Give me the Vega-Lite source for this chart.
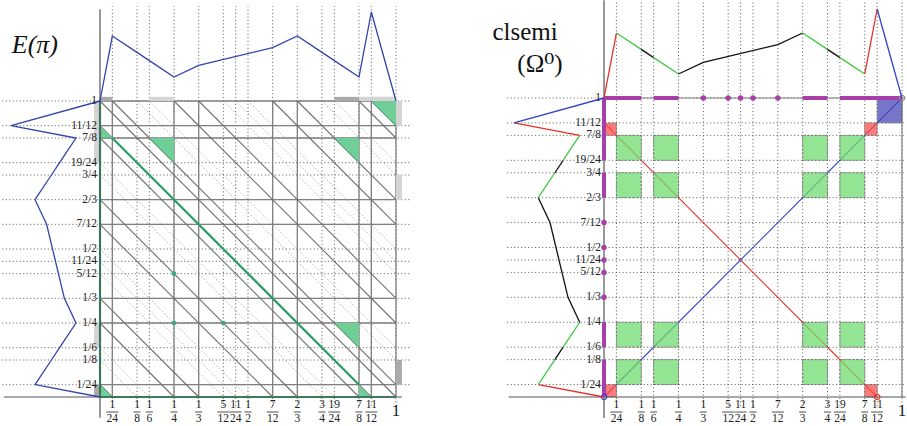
{
"$schema": "https://vega.github.io/schema/vega-lite/v6.json",
"width": 907, "height": 426, "autosize": {"type": "none"}, "padding": 0,
"config": {"view": {"stroke": null}, "axis": {"disable": true}, "legend": {"disable": true}, "text": {"font": "'Liberation Serif', 'DejaVu Serif', serif"}},
"resolve": {"scale": {"x": "independent", "y": "independent", "color": "independent"}},
"datasets": {
"ticks": [
{"v":0.0416667,"lab":"1/24","num":"1","den":"24"},
{"v":0.125,"lab":"1/8","num":"1","den":"8"},
{"v":0.1666667,"lab":"1/6","num":"1","den":"6"},
{"v":0.25,"lab":"1/4","num":"1","den":"4"},
{"v":0.3333333,"lab":"1/3","num":"1","den":"3"},
{"v":0.4166667,"lab":"5/12","num":"5","den":"12"},
{"v":0.4583333,"lab":"11/24","num":"11","den":"24"},
{"v":0.5,"lab":"1/2","num":"1","den":"2"},
{"v":0.5833333,"lab":"7/12","num":"7","den":"12"},
{"v":0.6666667,"lab":"2/3","num":"2","den":"3"},
{"v":0.75,"lab":"3/4","num":"3","den":"4"},
{"v":0.7916667,"lab":"19/24","num":"19","den":"24"},
{"v":0.875,"lab":"7/8","num":"7","den":"8"},
{"v":0.9166667,"lab":"11/12","num":"11","den":"12"},
{"v":1,"lab":"1","num":"1","den":""}
],
"bp": [{"v":0},{"v":0.0416667},{"v":0.25},{"v":0.3333333},{"v":0.5833333},{"v":0.6666667},{"v":0.875},{"v":0.9166667},{"v":1}],
"diag": [
{"x":0,"y":0.0416667,"x2":0.0416667,"y2":0,"k":"s"},
{"x":0,"y":0.25,"x2":0.25,"y2":0,"k":"s"},
{"x":0,"y":0.3333333,"x2":0.3333333,"y2":0,"k":"s"},
{"x":0,"y":0.5833333,"x2":0.5833333,"y2":0,"k":"s"},
{"x":0,"y":0.6666667,"x2":0.6666667,"y2":0,"k":"s"},
{"x":0,"y":0.875,"x2":0.875,"y2":0,"k":"s"},
{"x":0,"y":0.9166667,"x2":0.9166667,"y2":0,"k":"s"},
{"x":0,"y":1,"x2":1,"y2":0,"k":"s"},
{"x":0.0416667,"y":1,"x2":1,"y2":0.0416667,"k":"s"},
{"x":0.25,"y":1,"x2":1,"y2":0.25,"k":"s"},
{"x":0.3333333,"y":1,"x2":1,"y2":0.3333333,"k":"s"},
{"x":0.5833333,"y":1,"x2":1,"y2":0.5833333,"k":"s"},
{"x":0.6666667,"y":1,"x2":1,"y2":0.6666667,"k":"s"},
{"x":0.875,"y":1,"x2":1,"y2":0.875,"k":"s"},
{"x":0.9166667,"y":1,"x2":1,"y2":0.9166667,"k":"s"},
{"x":0,"y":0.125,"x2":0.125,"y2":0,"k":"d"},
{"x":0,"y":0.1666667,"x2":0.1666667,"y2":0,"k":"d"},
{"x":0,"y":0.4166667,"x2":0.4166667,"y2":0,"k":"d"},
{"x":0,"y":0.4583333,"x2":0.4583333,"y2":0,"k":"d"},
{"x":0,"y":0.5,"x2":0.5,"y2":0,"k":"d"},
{"x":0,"y":0.75,"x2":0.75,"y2":0,"k":"d"},
{"x":0,"y":0.7916667,"x2":0.7916667,"y2":0,"k":"d"},
{"x":0.125,"y":1,"x2":1,"y2":0.125,"k":"d"},
{"x":0.1666667,"y":1,"x2":1,"y2":0.1666667,"k":"d"},
{"x":0.4166667,"y":1,"x2":1,"y2":0.4166667,"k":"d"},
{"x":0.4583333,"y":1,"x2":1,"y2":0.4583333,"k":"d"},
{"x":0.5,"y":1,"x2":1,"y2":0.5,"k":"d"},
{"x":0.75,"y":1,"x2":1,"y2":0.75,"k":"d"},
{"x":0.7916667,"y":1,"x2":1,"y2":0.7916667,"k":"d"}
],
"pi": [
{"seg":1,"x":0,"p":0,"t":"r"},{"seg":1,"x":0.0416667,"p":0.73,"t":"r"},
{"seg":2,"x":0.0416667,"p":0.73,"t":"g"},{"seg":2,"x":0.125,"p":0.546,"t":"g"},
{"seg":3,"x":0.125,"p":0.546,"t":"k"},{"seg":3,"x":0.1666667,"p":0.454,"t":"k"},
{"seg":4,"x":0.1666667,"p":0.454,"t":"g"},{"seg":4,"x":0.25,"p":0.27,"t":"g"},
{"seg":5,"x":0.25,"p":0.27,"t":"k"},{"seg":5,"x":0.3333333,"p":0.4,"t":"k"},{"seg":5,"x":0.5833333,"p":0.6,"t":"k"},{"seg":5,"x":0.6666667,"p":0.73,"t":"k"},
{"seg":6,"x":0.6666667,"p":0.73,"t":"g"},{"seg":6,"x":0.75,"p":0.546,"t":"g"},
{"seg":7,"x":0.75,"p":0.546,"t":"k"},{"seg":7,"x":0.7916667,"p":0.454,"t":"k"},
{"seg":8,"x":0.7916667,"p":0.454,"t":"g"},{"seg":8,"x":0.875,"p":0.27,"t":"g"},
{"seg":9,"x":0.875,"p":0.27,"t":"r"},{"seg":9,"x":0.9166667,"p":1,"t":"r"},
{"seg":10,"x":0.9166667,"p":1,"t":"b"},{"seg":10,"x":1,"p":0,"t":"b"}
],
"tri": [
{"id":1,"x":0.9166667,"y":1,"y2":1},{"id":1,"x":1,"y":0.9166667,"y2":1},
{"id":2,"x":0.1666667,"y":0.875,"y2":0.875},{"id":2,"x":0.25,"y":0.7916667,"y2":0.875},
{"id":3,"x":0.7916667,"y":0.875,"y2":0.875},{"id":3,"x":0.875,"y":0.7916667,"y2":0.875},
{"id":4,"x":0,"y":0.875,"y2":0.9166667},{"id":4,"x":0.0416667,"y":0.875,"y2":0.875},
{"id":5,"x":0,"y":0,"y2":0.0416667},{"id":5,"x":0.0416667,"y":0,"y2":0},
{"id":6,"x":0.875,"y":0,"y2":0.0416667},{"id":6,"x":0.9166667,"y":0,"y2":0},
{"id":7,"x":0.7916667,"y":0.25,"y2":0.25},{"id":7,"x":0.875,"y":0.1666667,"y2":0.25}
],
"gbar": [
{"s":"top","a":0,"b":0.0416667,"t":"dark"},
{"s":"top","a":0.1666667,"b":0.25,"t":"light"},
{"s":"top","a":0.7916667,"b":0.875,"t":"dark"},
{"s":"top","a":0.875,"b":1,"t":"light"},
{"s":"left","a":0.7916667,"b":1,"t":"light"},
{"s":"left","a":0.1666667,"b":0.25,"t":"light"},
{"s":"left","a":0,"b":0.0416667,"t":"dark"},
{"s":"right","a":0.9166667,"b":1,"t":"light"},
{"s":"right","a":0.6666667,"b":0.75,"t":"light"},
{"s":"right","a":0.0416667,"b":0.125,"t":"dark"}
],
"sq": [
{"x":0.0416667,"x2":0.125,"y":0.7916667,"y2":0.875,"t":"g"},
{"x":0.1666667,"x2":0.25,"y":0.7916667,"y2":0.875,"t":"g"},
{"x":0.6666667,"x2":0.75,"y":0.7916667,"y2":0.875,"t":"g"},
{"x":0.7916667,"x2":0.875,"y":0.7916667,"y2":0.875,"t":"g"},
{"x":0.0416667,"x2":0.125,"y":0.6666667,"y2":0.75,"t":"g"},
{"x":0.1666667,"x2":0.25,"y":0.6666667,"y2":0.75,"t":"g"},
{"x":0.6666667,"x2":0.75,"y":0.6666667,"y2":0.75,"t":"g"},
{"x":0.7916667,"x2":0.875,"y":0.6666667,"y2":0.75,"t":"g"},
{"x":0.0416667,"x2":0.125,"y":0.1666667,"y2":0.25,"t":"g"},
{"x":0.1666667,"x2":0.25,"y":0.1666667,"y2":0.25,"t":"g"},
{"x":0.6666667,"x2":0.75,"y":0.1666667,"y2":0.25,"t":"g"},
{"x":0.7916667,"x2":0.875,"y":0.1666667,"y2":0.25,"t":"g"},
{"x":0.0416667,"x2":0.125,"y":0.0416667,"y2":0.125,"t":"g"},
{"x":0.1666667,"x2":0.25,"y":0.0416667,"y2":0.125,"t":"g"},
{"x":0.6666667,"x2":0.75,"y":0.0416667,"y2":0.125,"t":"g"},
{"x":0.7916667,"x2":0.875,"y":0.0416667,"y2":0.125,"t":"g"},
{"x":0,"x2":0.0416667,"y":0.875,"y2":0.9166667,"t":"r"},
{"x":0.875,"x2":0.9166667,"y":0.875,"y2":0.9166667,"t":"r"},
{"x":0,"x2":0.0416667,"y":0,"y2":0.0416667,"t":"r"},
{"x":0.875,"x2":0.9166667,"y":0,"y2":0.0416667,"t":"r"},
{"x":0.9166667,"x2":1,"y":0.9166667,"y2":1,"t":"b"}
],
"pbar": [{"a":0,"b":0.125},{"a":0.1666667,"b":0.25},{"a":0.6666667,"b":0.75},{"a":0.7916667,"b":1}],
"pdot": [{"v":0.3333333},{"v":0.4166667},{"v":0.4583333},{"v":0.5},{"v":0.5833333}]
},
"layer": [
{"data":{"name":"ticks"},"mark":{"type":"rule","strokeDash":[1,2.5],"color":"#444","strokeWidth":0.9},
 "encoding":{"x":{"field":"v","type":"quantitative","scale":{"domain":[-0.33784,2.72635],"nice":false,"zero":false}},
  "y":{"datum":-0.03,"type":"quantitative","scale":{"domain":[-0.09797,1.34122],"nice":false,"zero":false}},"y2":{"datum":1.32}}},
{"data":{"name":"ticks"},"mark":{"type":"rule","strokeDash":[1,2.5],"color":"#444","strokeWidth":0.9},
 "encoding":{"y":{"field":"v","type":"quantitative","scale":{"domain":[-0.09797,1.34122],"nice":false,"zero":false}},
  "x":{"datum":-0.33,"type":"quantitative","scale":{"domain":[-0.33784,2.72635],"nice":false,"zero":false}},"x2":{"datum":1.045}}},
{"data":{"name":"diag"},"transform":[{"filter":"datum.k=='d'"}],"mark":{"type":"rule","strokeDash":[1.5,2],"color":"#aaa","strokeWidth":0.9},
 "encoding":{"x":{"field":"x","type":"quantitative","scale":{"domain":[-0.33784,2.72635],"nice":false,"zero":false}},"x2":{"field":"x2"},
  "y":{"field":"y","type":"quantitative","scale":{"domain":[-0.09797,1.34122],"nice":false,"zero":false}},"y2":{"field":"y2"}}},
{"data":{"name":"bp"},"mark":{"type":"rule","color":"#808080","strokeWidth":1.3},
 "encoding":{"x":{"field":"v","type":"quantitative","scale":{"domain":[-0.33784,2.72635],"nice":false,"zero":false}},
  "y":{"datum":0,"type":"quantitative","scale":{"domain":[-0.09797,1.34122],"nice":false,"zero":false}},"y2":{"datum":1}}},
{"data":{"name":"bp"},"mark":{"type":"rule","color":"#808080","strokeWidth":1.3},
 "encoding":{"y":{"field":"v","type":"quantitative","scale":{"domain":[-0.09797,1.34122],"nice":false,"zero":false}},
  "x":{"datum":0,"type":"quantitative","scale":{"domain":[-0.33784,2.72635],"nice":false,"zero":false}},"x2":{"datum":1}}},
{"data":{"name":"diag"},"transform":[{"filter":"datum.k=='s'"}],"mark":{"type":"rule","color":"#707070","strokeWidth":1.1},
 "encoding":{"x":{"field":"x","type":"quantitative","scale":{"domain":[-0.33784,2.72635],"nice":false,"zero":false}},"x2":{"field":"x2"},
  "y":{"field":"y","type":"quantitative","scale":{"domain":[-0.09797,1.34122],"nice":false,"zero":false}},"y2":{"field":"y2"}}},
{"data":{"name":"gbar"},"transform":[{"filter":"datum.s=='top'"}],"mark":{"type":"rect"},
 "encoding":{"x":{"field":"a","type":"quantitative","scale":{"domain":[-0.33784,2.72635],"nice":false,"zero":false}},"x2":{"field":"b"},
  "y":{"datum":1,"type":"quantitative","scale":{"domain":[-0.09797,1.34122],"nice":false,"zero":false}},"y2":{"datum":1.014},
  "color":{"field":"t","type":"nominal","scale":{"domain":["dark","light"],"range":["#aaaaaa","#d4d4d4"]}}}},
{"data":{"name":"gbar"},"transform":[{"filter":"datum.s=='left'"}],"mark":{"type":"rect"},
 "encoding":{"y":{"field":"a","type":"quantitative","scale":{"domain":[-0.09797,1.34122],"nice":false,"zero":false}},"y2":{"field":"b"},
  "x":{"datum":-0.02,"type":"quantitative","scale":{"domain":[-0.33784,2.72635],"nice":false,"zero":false}},"x2":{"datum":0},
  "color":{"field":"t","type":"nominal","scale":{"domain":["dark","light"],"range":["#aaaaaa","#d4d4d4"]}}}},
{"data":{"name":"gbar"},"transform":[{"filter":"datum.s=='right'"}],"mark":{"type":"rect"},
 "encoding":{"y":{"field":"a","type":"quantitative","scale":{"domain":[-0.09797,1.34122],"nice":false,"zero":false}},"y2":{"field":"b"},
  "x":{"datum":1,"type":"quantitative","scale":{"domain":[-0.33784,2.72635],"nice":false,"zero":false}},"x2":{"datum":1.02},
  "color":{"field":"t","type":"nominal","scale":{"domain":["dark","light"],"range":["#aaaaaa","#d4d4d4"]}}}},
{"data":{"name":"tri"},"mark":{"type":"area","color":"#6fcf97","opacity":1,"line":{"color":"#3c9a6a","strokeWidth":0.6}},
 "encoding":{"x":{"field":"x","type":"quantitative","scale":{"domain":[-0.33784,2.72635],"nice":false,"zero":false}},
  "y":{"field":"y","type":"quantitative","scale":{"domain":[-0.09797,1.34122],"nice":false,"zero":false}},"y2":{"field":"y2"},
  "detail":{"field":"id","type":"nominal"}}},
{"data":{"values":[{"x":0.0416667,"y":0.875,"x2":0.875,"y2":0.0416667},{"x":0,"y":0,"x2":0,"y2":1},{"x":0,"y":0,"x2":1,"y2":0}]},
 "mark":{"type":"rule","color":"#2f9b6a","strokeWidth":2.2},
 "encoding":{"x":{"field":"x","type":"quantitative","scale":{"domain":[-0.33784,2.72635],"nice":false,"zero":false}},"x2":{"field":"x2"},
  "y":{"field":"y","type":"quantitative","scale":{"domain":[-0.09797,1.34122],"nice":false,"zero":false}},"y2":{"field":"y2"}}},
{"data":{"values":[{"x":0,"y":-0.07,"x2":0,"y2":1.31},{"x":-0.325,"y":0,"x2":1.02,"y2":0}]},
 "mark":{"type":"rule","color":"#555","strokeWidth":1.2},
 "encoding":{"x":{"field":"x","type":"quantitative","scale":{"domain":[-0.33784,2.72635],"nice":false,"zero":false}},"x2":{"field":"x2"},
  "y":{"field":"y","type":"quantitative","scale":{"domain":[-0.09797,1.34122],"nice":false,"zero":false}},"y2":{"field":"y2"}}},
{"data":{"values":[{"x":0.25,"y":0.4166667},{"x":0.25,"y":0.25},{"x":0.4166667,"y":0.25}]},
 "mark":{"type":"circle","color":"#3aa87a","size":22,"opacity":1},
 "encoding":{"x":{"field":"x","type":"quantitative","scale":{"domain":[-0.33784,2.72635],"nice":false,"zero":false}},
  "y":{"field":"y","type":"quantitative","scale":{"domain":[-0.09797,1.34122],"nice":false,"zero":false}}}},
{"data":{"name":"pi"},"mark":{"type":"line","color":"#3344aa","strokeWidth":1.3},
 "encoding":{"x":{"field":"x","type":"quantitative","scale":{"domain":[-0.33784,2.72635],"nice":false,"zero":false}},
  "y":{"field":"p","type":"quantitative","scale":{"domain":[-3.6517,1.13483],"nice":false,"zero":false}}}},
{"data":{"name":"pi"},"mark":{"type":"line","color":"#3344aa","strokeWidth":1.3},
 "encoding":{"x":{"field":"p","type":"quantitative","scale":{"domain":[-9.0674,1.1236],"reverse":true,"nice":false,"zero":false}},
  "y":{"field":"x","type":"quantitative","scale":{"domain":[-0.09797,1.34122],"nice":false,"zero":false}},
  "order":{"field":"x","type":"quantitative"}}},
{"data":{"name":"ticks"},"mark":{"type":"text","align":"right","baseline":"middle","dx":-3,"fontSize":11.5,"color":"#222"},
 "encoding":{"y":{"field":"v","type":"quantitative","scale":{"domain":[-0.09797,1.34122],"nice":false,"zero":false}},
  "x":{"datum":0,"type":"quantitative","scale":{"domain":[-0.33784,2.72635],"nice":false,"zero":false}},"text":{"field":"lab"}}},
{"data":{"name":"ticks"},"transform":[{"filter":"datum.v<1"}],"mark":{"type":"text","align":"center","baseline":"middle","fontSize":11.5,"color":"#222"},
 "encoding":{"x":{"field":"v","type":"quantitative","scale":{"domain":[-0.33784,2.72635],"nice":false,"zero":false}},
  "y":{"datum":-0.027,"type":"quantitative","scale":{"domain":[-0.09797,1.34122],"nice":false,"zero":false}},"text":{"field":"num"}}},
{"data":{"name":"ticks"},"transform":[{"filter":"datum.v<1"}],"mark":{"type":"text","align":"center","baseline":"middle","fontSize":11.5,"color":"#222"},
 "encoding":{"x":{"field":"v","type":"quantitative","scale":{"domain":[-0.33784,2.72635],"nice":false,"zero":false}},
  "y":{"datum":-0.0745,"type":"quantitative","scale":{"domain":[-0.09797,1.34122],"nice":false,"zero":false}},"text":{"field":"den"}}},
{"data":{"name":"ticks"},"transform":[{"filter":"datum.v<1 && length(datum.den)>1"}],"mark":{"type":"rule","color":"#222","strokeWidth":0.8,"xOffset":-6,"x2Offset":6},
 "encoding":{"x":{"field":"v","type":"quantitative","scale":{"domain":[-0.33784,2.72635],"nice":false,"zero":false}},"x2":{"field":"v"},
  "y":{"datum":-0.0507,"type":"quantitative","scale":{"domain":[-0.09797,1.34122],"nice":false,"zero":false}}}},
{"data":{"name":"ticks"},"transform":[{"filter":"datum.v<1 && length(datum.den)==1"}],"mark":{"type":"rule","color":"#222","strokeWidth":0.8,"xOffset":-3.5,"x2Offset":3.5},
 "encoding":{"x":{"field":"v","type":"quantitative","scale":{"domain":[-0.33784,2.72635],"nice":false,"zero":false}},"x2":{"field":"v"},
  "y":{"datum":-0.0507,"type":"quantitative","scale":{"domain":[-0.09797,1.34122],"nice":false,"zero":false}}}},
{"data":{"values":[{"v":1,"lab":"1"}]},"mark":{"type":"text","align":"center","baseline":"middle","fontSize":17,"color":"#222"},
 "encoding":{"x":{"field":"v","type":"quantitative","scale":{"domain":[-0.33784,2.72635],"nice":false,"zero":false}},
  "y":{"datum":-0.048,"type":"quantitative","scale":{"domain":[-0.09797,1.34122],"nice":false,"zero":false}},"text":{"field":"lab"}}},
{"data":{"values":[{"x":-0.22,"y":1.19,"lab":"E(π)"}]},"mark":{"type":"text","align":"center","baseline":"middle","fontStyle":"italic","fontSize":26,"color":"#111"},
 "encoding":{"x":{"field":"x","type":"quantitative","scale":{"domain":[-0.33784,2.72635],"nice":false,"zero":false}},
  "y":{"field":"y","type":"quantitative","scale":{"domain":[-0.09797,1.34122],"nice":false,"zero":false}},"text":{"field":"lab"}}},

{"data":{"name":"ticks"},"mark":{"type":"rule","strokeDash":[1,2.5],"color":"#444","strokeWidth":0.9},
 "encoding":{"x":{"field":"v","type":"quantitative","scale":{"domain":[-2.02685,1.01678],"nice":false,"zero":false}},
  "y":{"datum":-0.03,"type":"quantitative","scale":{"domain":[-0.09699,1.32776],"nice":false,"zero":false}},"y2":{"datum":1.327}}},
{"data":{"name":"ticks"},"mark":{"type":"rule","strokeDash":[1,2.5],"color":"#444","strokeWidth":0.9},
 "encoding":{"y":{"field":"v","type":"quantitative","scale":{"domain":[-0.09699,1.32776],"nice":false,"zero":false}},
  "x":{"datum":-0.325,"type":"quantitative","scale":{"domain":[-2.02685,1.01678],"nice":false,"zero":false}},"x2":{"datum":1.012}}},
{"data":{"values":[{"x":0,"y":1,"x2":1,"y2":1},{"x":1,"y":0,"x2":1,"y2":1}]},
 "mark":{"type":"rule","color":"#808080","strokeWidth":1.2},
 "encoding":{"x":{"field":"x","type":"quantitative","scale":{"domain":[-2.02685,1.01678],"nice":false,"zero":false}},"x2":{"field":"x2"},
  "y":{"field":"y","type":"quantitative","scale":{"domain":[-0.09699,1.32776],"nice":false,"zero":false}},"y2":{"field":"y2"}}},
{"data":{"values":[{"x":0,"y":0.9166667,"x2":0.9166667,"y2":0,"t":"r"},{"x":0,"y":0,"x2":1,"y2":1,"t":"b"}]},
 "mark":{"type":"rule","strokeWidth":1.1},
 "encoding":{"x":{"field":"x","type":"quantitative","scale":{"domain":[-2.02685,1.01678],"nice":false,"zero":false}},"x2":{"field":"x2"},
  "y":{"field":"y","type":"quantitative","scale":{"domain":[-0.09699,1.32776],"nice":false,"zero":false}},"y2":{"field":"y2"},
  "color":{"field":"t","type":"nominal","scale":{"domain":["r","b"],"range":["#e8302a","#3344cc"]}}}},
{"data":{"name":"sq"},"mark":{"type":"rect","opacity":0.75,"stroke":"#666","strokeWidth":1,"strokeDash":[3,1]},
 "encoding":{"x":{"field":"x","type":"quantitative","scale":{"domain":[-2.02685,1.01678],"nice":false,"zero":false}},"x2":{"field":"x2"},
  "y":{"field":"y","type":"quantitative","scale":{"domain":[-0.09699,1.32776],"nice":false,"zero":false}},"y2":{"field":"y2"},
  "color":{"field":"t","type":"nominal","scale":{"domain":["g","r","b"],"range":["#6fdc6f","#ff4d4d","#4a4ab8"]}}}},
{"data":{"values":[{"x":0,"y":-0.07,"x2":0,"y2":1.327},{"x":-0.32,"y":0,"x2":1.012,"y2":0}]},
 "mark":{"type":"rule","color":"#555","strokeWidth":1.2},
 "encoding":{"x":{"field":"x","type":"quantitative","scale":{"domain":[-2.02685,1.01678],"nice":false,"zero":false}},"x2":{"field":"x2"},
  "y":{"field":"y","type":"quantitative","scale":{"domain":[-0.09699,1.32776],"nice":false,"zero":false}},"y2":{"field":"y2"}}},
{"data":{"name":"pbar"},"mark":{"type":"rule","color":"#a83fa8","strokeWidth":4,"strokeCap":"butt"},
 "encoding":{"x":{"field":"a","type":"quantitative","scale":{"domain":[-2.02685,1.01678],"nice":false,"zero":false}},"x2":{"field":"b"},
  "y":{"datum":1,"type":"quantitative","scale":{"domain":[-0.09699,1.32776],"nice":false,"zero":false}}}},
{"data":{"name":"pbar"},"mark":{"type":"rule","color":"#a83fa8","strokeWidth":4,"strokeCap":"butt"},
 "encoding":{"y":{"field":"a","type":"quantitative","scale":{"domain":[-0.09699,1.32776],"nice":false,"zero":false}},"y2":{"field":"b"},
  "x":{"datum":0,"type":"quantitative","scale":{"domain":[-2.02685,1.01678],"nice":false,"zero":false}}}},
{"data":{"name":"pdot"},"mark":{"type":"circle","color":"#a83fa8","size":30,"opacity":1},
 "encoding":{"x":{"field":"v","type":"quantitative","scale":{"domain":[-2.02685,1.01678],"nice":false,"zero":false}},
  "y":{"datum":1,"type":"quantitative","scale":{"domain":[-0.09699,1.32776],"nice":false,"zero":false}}}},
{"data":{"name":"pdot"},"mark":{"type":"circle","color":"#a83fa8","size":30,"opacity":1},
 "encoding":{"y":{"field":"v","type":"quantitative","scale":{"domain":[-0.09699,1.32776],"nice":false,"zero":false}},
  "x":{"datum":0,"type":"quantitative","scale":{"domain":[-2.02685,1.01678],"nice":false,"zero":false}}}},
{"data":{"values":[{"x":0,"y":0,"t":"b"},{"x":0.9166667,"y":0,"t":"r"},{"x":1,"y":1,"t":"k"}]},
 "mark":{"type":"point","filled":false,"size":30,"strokeWidth":1.2,"opacity":1},
 "encoding":{"x":{"field":"x","type":"quantitative","scale":{"domain":[-2.02685,1.01678],"nice":false,"zero":false}},
  "y":{"field":"y","type":"quantitative","scale":{"domain":[-0.09699,1.32776],"nice":false,"zero":false}},
  "color":{"field":"t","type":"nominal","scale":{"domain":["r","b","k"],"range":["#e8302a","#3344cc","#888888"]}}}},
{"data":{"name":"pi"},"mark":{"type":"line","strokeWidth":1.3},
 "encoding":{"x":{"field":"x","type":"quantitative","scale":{"domain":[-2.02685,1.01678],"nice":false,"zero":false}},
  "y":{"field":"p","type":"quantitative","scale":{"domain":[-3.68539,1.10112],"nice":false,"zero":false}},
  "detail":{"field":"seg","type":"nominal"},
  "color":{"field":"t","type":"nominal","scale":{"domain":["r","g","k","b"],"range":["#e8302a","#3ccc3c","#111111","#3344cc"]}}}},
{"data":{"name":"pi"},"mark":{"type":"line","strokeWidth":1.3},
 "encoding":{"x":{"field":"p","type":"quantitative","scale":{"domain":[-3.3667,6.7111],"reverse":true,"nice":false,"zero":false}},
  "y":{"field":"x","type":"quantitative","scale":{"domain":[-0.09699,1.32776],"nice":false,"zero":false}},
  "order":{"field":"x","type":"quantitative"},
  "detail":{"field":"seg","type":"nominal"},
  "color":{"field":"t","type":"nominal","scale":{"domain":["r","g","k","b"],"range":["#e8302a","#3ccc3c","#111111","#3344cc"]}}}},
{"data":{"name":"ticks"},"mark":{"type":"text","align":"right","baseline":"middle","dx":-3,"fontSize":11.5,"color":"#222"},
 "encoding":{"y":{"field":"v","type":"quantitative","scale":{"domain":[-0.09699,1.32776],"nice":false,"zero":false}},
  "x":{"datum":0,"type":"quantitative","scale":{"domain":[-2.02685,1.01678],"nice":false,"zero":false}},"text":{"field":"lab"}}},
{"data":{"name":"ticks"},"transform":[{"filter":"datum.v<1"}],"mark":{"type":"text","align":"center","baseline":"middle","fontSize":11.5,"color":"#222"},
 "encoding":{"x":{"field":"v","type":"quantitative","scale":{"domain":[-2.02685,1.01678],"nice":false,"zero":false}},
  "y":{"datum":-0.027,"type":"quantitative","scale":{"domain":[-0.09699,1.32776],"nice":false,"zero":false}},"text":{"field":"num"}}},
{"data":{"name":"ticks"},"transform":[{"filter":"datum.v<1"}],"mark":{"type":"text","align":"center","baseline":"middle","fontSize":11.5,"color":"#222"},
 "encoding":{"x":{"field":"v","type":"quantitative","scale":{"domain":[-2.02685,1.01678],"nice":false,"zero":false}},
  "y":{"datum":-0.0737,"type":"quantitative","scale":{"domain":[-0.09699,1.32776],"nice":false,"zero":false}},"text":{"field":"den"}}},
{"data":{"name":"ticks"},"transform":[{"filter":"datum.v<1 && length(datum.den)>1"}],"mark":{"type":"rule","color":"#222","strokeWidth":0.8,"xOffset":-6,"x2Offset":6},
 "encoding":{"x":{"field":"v","type":"quantitative","scale":{"domain":[-2.02685,1.01678],"nice":false,"zero":false}},"x2":{"field":"v"},
  "y":{"datum":-0.0503,"type":"quantitative","scale":{"domain":[-0.09699,1.32776],"nice":false,"zero":false}}}},
{"data":{"name":"ticks"},"transform":[{"filter":"datum.v<1 && length(datum.den)==1"}],"mark":{"type":"rule","color":"#222","strokeWidth":0.8,"xOffset":-3.5,"x2Offset":3.5},
 "encoding":{"x":{"field":"v","type":"quantitative","scale":{"domain":[-2.02685,1.01678],"nice":false,"zero":false}},"x2":{"field":"v"},
  "y":{"datum":-0.0503,"type":"quantitative","scale":{"domain":[-0.09699,1.32776],"nice":false,"zero":false}}}},
{"data":{"values":[{"v":1,"lab":"1"}]},"mark":{"type":"text","align":"center","baseline":"middle","fontSize":17,"color":"#222"},
 "encoding":{"x":{"field":"v","type":"quantitative","scale":{"domain":[-2.02685,1.01678],"nice":false,"zero":false}},
  "y":{"datum":-0.047,"type":"quantitative","scale":{"domain":[-0.09699,1.32776],"nice":false,"zero":false}},"text":{"field":"lab"}}},
{"data":{"values":[{"x":-0.265,"y":1.22,"lab":"clsemi"},{"x":-0.215,"y":1.115,"lab":"(Ω⁰)"}]},
 "mark":{"type":"text","align":"center","baseline":"middle","fontSize":25,"color":"#111"},
 "encoding":{"x":{"field":"x","type":"quantitative","scale":{"domain":[-2.02685,1.01678],"nice":false,"zero":false}},
  "y":{"field":"y","type":"quantitative","scale":{"domain":[-0.09699,1.32776],"nice":false,"zero":false}},"text":{"field":"lab"}}}
]
}
